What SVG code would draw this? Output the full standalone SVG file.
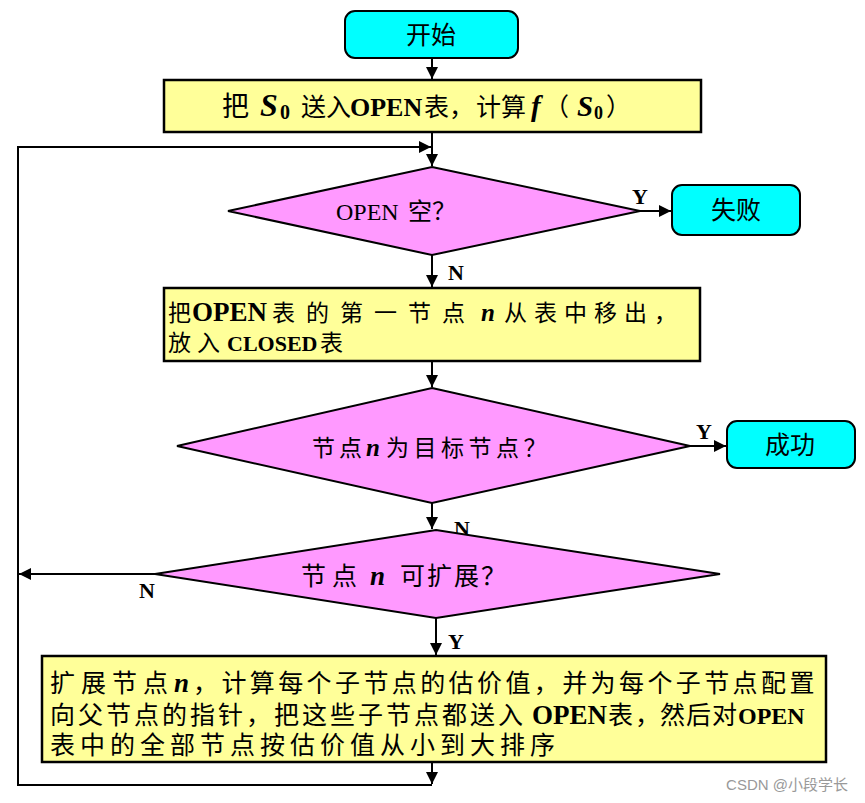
<svg xmlns="http://www.w3.org/2000/svg" width="865" height="803" viewBox="0 0 865 803">
<style>
.term{fill:#00FFFF;stroke:#000;stroke-width:2}
.proc{fill:#FFFF99;stroke:#000;stroke-width:2.5}
.dec{fill:#FF99FF;stroke:#000;stroke-width:2}
.ln{fill:none;stroke:#000;stroke-width:2}
.t{font-family:"Liberation Serif","Noto Sans CJK SC",serif;fill:#000}
.b{font-weight:bold}
.i{font-style:italic;font-weight:bold}
.lbl{font-family:"Liberation Serif",serif;font-weight:bold;font-size:22px;fill:#000}
</style>
<defs>
<marker id="ah" viewBox="0 0 10 10" refX="10" refY="5" markerWidth="6" markerHeight="6" markerUnits="strokeWidth" orient="auto">
<path d="M0,0 L10,5 L0,10 z" fill="#000"/>
</marker>
</defs>
<rect width="865" height="803" fill="#fff"/>
<g id="connectors">
<path class="ln" d="M432,58 V79" marker-end="url(#ah)"/>
<path class="ln" d="M432,132 V166" marker-end="url(#ah)"/>
<path class="ln" d="M432,762 V784" marker-end="url(#ah)"/>
<path class="ln" d="M432,785 H18 V147 H431" marker-end="url(#ah)"/>
<path class="ln" d="M640,211 H671" marker-end="url(#ah)"/>
<path class="ln" d="M432,255 V287" marker-end="url(#ah)"/>
<path class="ln" d="M432,361 V387" marker-end="url(#ah)"/>
<path class="ln" d="M690,446 H726" marker-end="url(#ah)"/>
<path class="ln" d="M432,503 V529" marker-end="url(#ah)"/>
<path class="ln" d="M155,574 H19" marker-end="url(#ah)"/>
<path class="ln" d="M436,618 V655" marker-end="url(#ah)"/>
<text class="lbl" x="632" y="204">Y</text>
<text class="lbl" x="448" y="280">N</text>
<text class="lbl" x="696" y="439">Y</text>
<text class="lbl" x="454" y="536">N</text>
<text class="lbl" x="139" y="598">N</text>
<text class="lbl" x="448" y="649">Y</text>
</g>
<g id="start">
<rect class="term" x="345" y="11" width="173" height="47" rx="10"/>
<text class="t" x="431" y="44" font-size="25" text-anchor="middle">开始</text>
</g>
<g id="init">
<rect class="proc" x="164" y="80" width="537" height="52"/>
<text class="t" y="116" font-size="25"><tspan x="222" font-size="27">把</tspan><tspan x="260" class="i" font-size="32">S</tspan><tspan x="280" font-size="20" class="b" dy="3">0</tspan><tspan x="301" dy="-3">送入</tspan><tspan x="350" class="b" font-size="26">OPEN</tspan><tspan x="424">表，</tspan><tspan x="476">计算</tspan><tspan x="531" class="i" font-size="29">f</tspan><tspan x="544">（</tspan><tspan x="577" class="i" font-size="29">S</tspan><tspan x="594" font-size="18" class="b" dy="3">0</tspan><tspan x="606" dy="-3">）</tspan></text>
</g>
<g id="openEmpty">
<polygon class="dec" points="432,167 640,211 432,255 228,211"/>
<text class="t" y="220" font-size="24"><tspan x="336">OPEN</tspan><tspan x="408">空？</tspan></text>
</g>
<g id="fail">
<rect class="term" x="672" y="185" width="128" height="50" rx="10"/>
<text class="t" x="736" y="219" font-size="25" text-anchor="middle">失败</text>
</g>
<g id="moveNode">
<rect class="proc" x="164" y="288" width="536" height="73"/>
<text class="t" y="321" font-size="23"><tspan x="168">把</tspan><tspan x="192" class="b" font-size="27">OPEN</tspan><tspan x="272" letter-spacing="11">表的第一节点</tspan><tspan x="481" class="i" font-size="25">n</tspan><tspan x="504" letter-spacing="7">从表中移出，</tspan></text>
<text class="t" y="351" font-size="23"><tspan x="168" letter-spacing="6">放入</tspan><tspan x="227" class="b" font-size="22">CLOSED</tspan><tspan x="320">表</tspan></text>
</g>
<g id="isGoal">
<polygon class="dec" points="432,388 690,446 432,503 177,446"/>
<text class="t" y="456" font-size="23"><tspan x="312">节</tspan><tspan x="339">点</tspan><tspan x="366" class="i" font-size="25">n</tspan><tspan x="386" letter-spacing="4.5">为目标节点？</tspan></text>
</g>
<g id="success">
<rect class="term" x="727" y="421" width="128" height="47" rx="10"/>
<text class="t" x="790" y="454" font-size="25" text-anchor="middle">成功</text>
</g>
<g id="expandable">
<polygon class="dec" points="436,530 720,574 436,618 155,574"/>
<text class="t" y="585" font-size="25"><tspan x="301">节</tspan><tspan x="332">点</tspan><tspan x="370" class="i" font-size="27">n</tspan><tspan x="400" letter-spacing="2">可扩展？</tspan></text>
</g>
<g id="expand">
<rect class="proc" x="42" y="656" width="784" height="106"/>
<text class="t" y="692" font-size="25"><tspan x="50" letter-spacing="6">扩展节点</tspan><tspan x="174" class="i" font-size="27">n</tspan><tspan x="193" letter-spacing="3.4">，计算每个子节点的估价值，并为每个子节点配置</tspan></text>
<text class="t" y="724" font-size="25"><tspan x="50" letter-spacing="3">向父节点的指针，把这些子节点都送入</tspan><tspan x="532" class="b" font-size="27">OPEN</tspan><tspan x="608" letter-spacing="2">表，</tspan><tspan x="660" letter-spacing="1">然后对</tspan><tspan x="738" class="b" font-size="24">OPEN</tspan></text>
<text class="t" y="754" font-size="25"><tspan x="50" letter-spacing="5">表中的全部节点按估价值从小到大排序</tspan></text>
</g>
<text x="848" y="790" font-family="Liberation Sans,Noto Sans CJK SC,sans-serif" font-size="15" fill="#999" text-anchor="end">CSDN @小段学长</text>
</svg>
